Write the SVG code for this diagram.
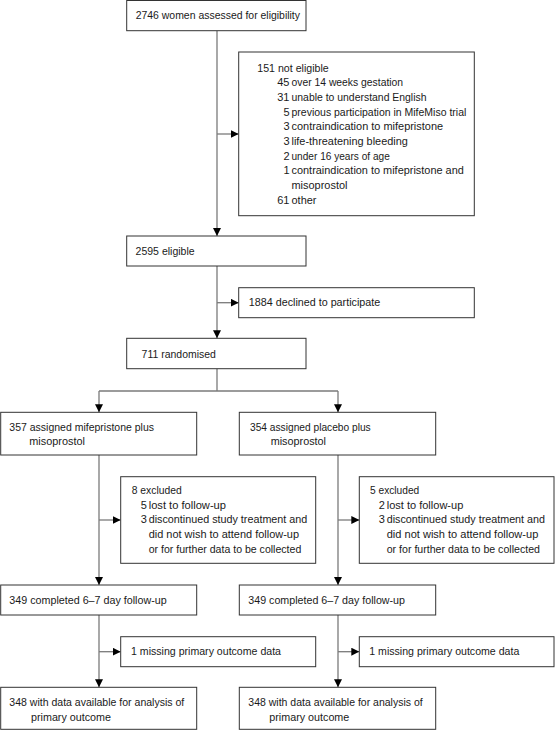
<svg xmlns="http://www.w3.org/2000/svg" width="555" height="730" viewBox="0 0 555 730">
<defs>
<marker id="ah" markerUnits="userSpaceOnUse" markerWidth="8" markerHeight="8" viewBox="0 0 8 8" refX="8" refY="4" orient="auto">
<path d="M0,0 L8,4 L0,8 z" fill="#000"/>
</marker>
<style>
rect{fill:#fff;stroke:#333;stroke-width:1}
text{font-family:"Liberation Sans",Arial,sans-serif;font-size:11px;fill:#1a1a1a}
.n{text-anchor:end}
#connectors line{stroke:#7a7a7a;stroke-width:1.3;fill:none}
#connectors line.a{marker-end:url(#ah)}
</style>
</defs>
<rect x="0" y="0" width="555" height="730" style="fill:#fff;stroke:none"/>
<g id="connectors">
<line x1="217" y1="30.7" x2="217" y2="236" class="a"/>
<line x1="217" y1="134" x2="238.7" y2="134" class="a"/>
<line x1="217" y1="266" x2="217" y2="338.3" class="a"/>
<line x1="217" y1="302.7" x2="238.7" y2="302.7" class="a"/>
<line x1="217" y1="368.7" x2="217" y2="391"/>
<line x1="99" y1="391" x2="338" y2="391"/>
<line x1="99" y1="391" x2="99" y2="412.3" class="a"/>
<line x1="338" y1="391" x2="338" y2="412.3" class="a"/>
<line x1="99" y1="455" x2="99" y2="585" class="a"/>
<line x1="99" y1="520" x2="120.7" y2="520" class="a"/>
<line x1="338" y1="455" x2="338" y2="585" class="a"/>
<line x1="338" y1="520" x2="359.3" y2="520" class="a"/>
<line x1="99" y1="615" x2="99" y2="687.3" class="a"/>
<line x1="99" y1="651.7" x2="120.7" y2="651.7" class="a"/>
<line x1="338" y1="615" x2="338" y2="687.3" class="a"/>
<line x1="338" y1="651.7" x2="359.3" y2="651.7" class="a"/>
</g>
<g id="assessed">
<rect x="126.7" y="0.5" width="179.3" height="30.2"/>
<text x="135.7" y="18.5" textLength="164.3" lengthAdjust="spacingAndGlyphs">2746 women assessed for eligibility</text>
</g>
<g id="not-eligible">
<rect x="238.7" y="52" width="235.6" height="163.7"/>
<text x="257.3" y="71.5" textLength="71.4" lengthAdjust="spacingAndGlyphs">151 not eligible</text>
<text class="n" x="289.5" y="86.2">45</text><text x="291.5" y="86.2" textLength="111.6" lengthAdjust="spacingAndGlyphs">over 14 weeks gestation</text>
<text class="n" x="289.5" y="100.8">31</text><text x="291.5" y="100.8" textLength="135" lengthAdjust="spacingAndGlyphs">unable to understand English</text>
<text class="n" x="289.5" y="115.5">5</text><text x="291.5" y="115.5" textLength="174.8" lengthAdjust="spacingAndGlyphs">previous participation in MifeMiso trial</text>
<text class="n" x="289.5" y="130.2">3</text><text x="291.5" y="130.2" textLength="151.6" lengthAdjust="spacingAndGlyphs">contraindication to mifepristone</text>
<text class="n" x="289.5" y="144.8">3</text><text x="291.5" y="144.8" textLength="116.3" lengthAdjust="spacingAndGlyphs">life-threatening bleeding</text>
<text class="n" x="289.5" y="159.5">2</text><text x="291.5" y="159.5" textLength="98.3" lengthAdjust="spacingAndGlyphs">under 16 years of age</text>
<text class="n" x="289.5" y="174.2">1</text><text x="291.5" y="174.2" textLength="172.3" lengthAdjust="spacingAndGlyphs">contraindication to mifepristone and</text>
<text x="291.5" y="188.8" textLength="56" lengthAdjust="spacingAndGlyphs">misoprostol</text>
<text class="n" x="289.5" y="203.5">61</text><text x="291.5" y="203.5" textLength="25" lengthAdjust="spacingAndGlyphs">other</text>
</g>
<g id="eligible">
<rect x="126.7" y="236" width="179.3" height="30"/>
<text x="135.6" y="254.5" textLength="59" lengthAdjust="spacingAndGlyphs">2595 eligible</text>
</g>
<g id="declined">
<rect x="238.7" y="287.7" width="235.6" height="30"/>
<text x="248.8" y="305.5" textLength="131.4" lengthAdjust="spacingAndGlyphs">1884 declined to participate</text>
</g>
<g id="randomised">
<rect x="126.7" y="338.3" width="179.3" height="30.4"/>
<text x="141.6" y="357.5" textLength="74.3" lengthAdjust="spacingAndGlyphs">711 randomised</text>
</g>
<g id="assigned-mife">
<rect x="0.7" y="412.3" width="196" height="42.7"/>
<text x="9.3" y="430.5" textLength="144.7" lengthAdjust="spacingAndGlyphs">357 assigned mifepristone plus</text>
<text x="29.3" y="445.2" textLength="55.7" lengthAdjust="spacingAndGlyphs">misoprostol</text>
</g>
<g id="assigned-placebo">
<rect x="239.3" y="412.3" width="196.4" height="42.7"/>
<text x="250" y="430.5" textLength="120.7" lengthAdjust="spacingAndGlyphs">354 assigned placebo plus</text>
<text x="270.7" y="445.2" textLength="55.3" lengthAdjust="spacingAndGlyphs">misoprostol</text>
</g>
<g id="excluded-mife">
<rect x="120.7" y="476.7" width="195" height="86.6"/>
<text x="131.7" y="494" textLength="50" lengthAdjust="spacingAndGlyphs">8 excluded</text>
<text class="n" x="146.8" y="508.7">5</text><text x="148.7" y="508.7" textLength="77.3" lengthAdjust="spacingAndGlyphs">lost to follow-up</text>
<text class="n" x="146.8" y="523.3">3</text><text x="148.7" y="523.3" textLength="158.6" lengthAdjust="spacingAndGlyphs">discontinued study treatment and</text>
<text x="148.7" y="538" textLength="150.3" lengthAdjust="spacingAndGlyphs">did not wish to attend follow-up</text>
<text x="148.7" y="552.7" textLength="152.6" lengthAdjust="spacingAndGlyphs">or for further data to be collected</text>
</g>
<g id="excluded-placebo">
<rect x="359.3" y="476.7" width="194.7" height="86.6"/>
<text x="370" y="494" textLength="49.3" lengthAdjust="spacingAndGlyphs">5 excluded</text>
<text class="n" x="384.8" y="508.7">2</text><text x="386.7" y="508.7" textLength="76.6" lengthAdjust="spacingAndGlyphs">lost to follow-up</text>
<text class="n" x="384.8" y="523.3">3</text><text x="386.7" y="523.3" textLength="158.3" lengthAdjust="spacingAndGlyphs">discontinued study treatment and</text>
<text x="386.7" y="538" textLength="151.6" lengthAdjust="spacingAndGlyphs">did not wish to attend follow-up</text>
<text x="386.7" y="552.7" textLength="153.3" lengthAdjust="spacingAndGlyphs">or for further data to be collected</text>
</g>
<g id="completed-mife">
<rect x="0.7" y="585" width="196" height="30"/>
<text x="9.3" y="603.5" textLength="157.4" lengthAdjust="spacingAndGlyphs">349 completed 6–7 day follow-up</text>
</g>
<g id="completed-placebo">
<rect x="239.3" y="585" width="196.4" height="30"/>
<text x="248.3" y="603.5" textLength="156.7" lengthAdjust="spacingAndGlyphs">349 completed 6–7 day follow-up</text>
</g>
<g id="missing-mife">
<rect x="120.7" y="636.7" width="195" height="30"/>
<text x="131" y="654.5" textLength="150" lengthAdjust="spacingAndGlyphs">1 missing primary outcome data</text>
</g>
<g id="missing-placebo">
<rect x="359.3" y="636.7" width="194.7" height="30"/>
<text x="369.3" y="654.5" textLength="150" lengthAdjust="spacingAndGlyphs">1 missing primary outcome data</text>
</g>
<g id="analysed-mife">
<rect x="0.7" y="687.3" width="196" height="42"/>
<text x="9.3" y="706" textLength="175" lengthAdjust="spacingAndGlyphs">348 with data available for analysis of</text>
<text x="31" y="720.7" textLength="80" lengthAdjust="spacingAndGlyphs">primary outcome</text>
</g>
<g id="analysed-placebo">
<rect x="239.3" y="687.3" width="196.4" height="42"/>
<text x="248.3" y="706" textLength="174.4" lengthAdjust="spacingAndGlyphs">348 with data available for analysis of</text>
<text x="269.3" y="720.7" textLength="80" lengthAdjust="spacingAndGlyphs">primary outcome</text>
</g>
</svg>
